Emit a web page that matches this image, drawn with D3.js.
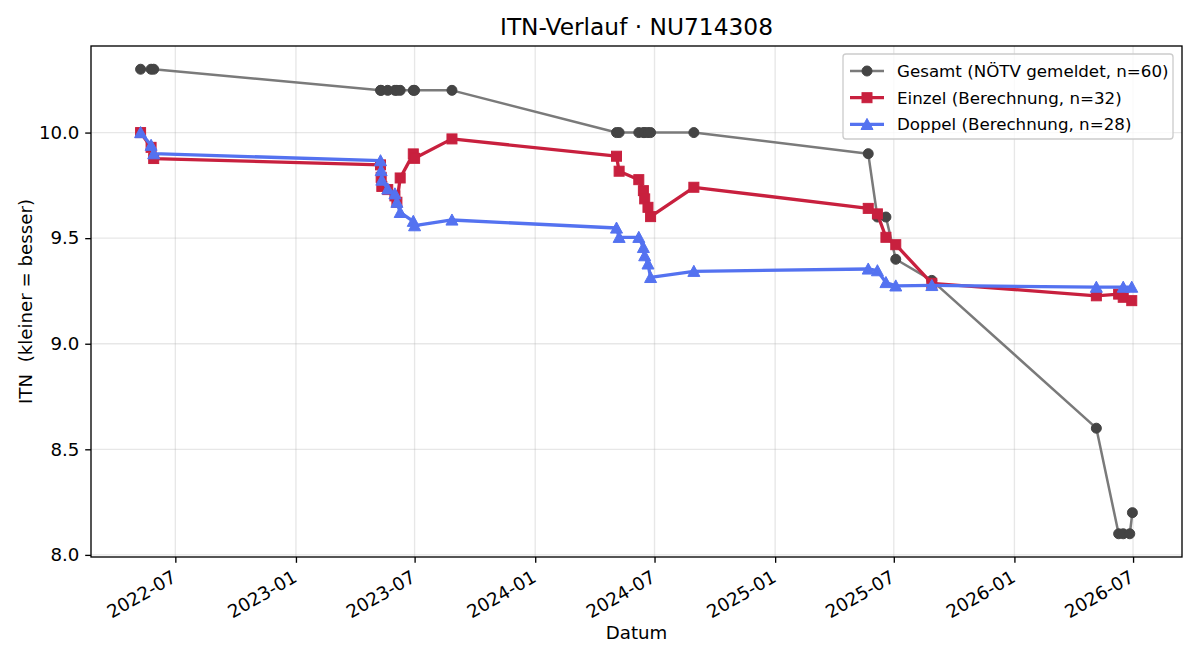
<!DOCTYPE html>
<html><head><meta charset="utf-8">
<script src="https://cdn.jsdelivr.net/npm/d3@7"></script>
<style>
html,body{margin:0;padding:0;background:#fff;}
svg{display:block;font-family:"DejaVu Sans",sans-serif;}
</style></head>
<body>
<svg id="chart" width="1200" height="660"></svg>
<script>
// ---- data ----
const gesamtDates = ["2022-05-09","2022-05-25","2022-05-29",
  "2023-05-10","2023-05-11","2023-05-21","2023-06-01","2023-06-04","2023-06-09","2023-06-29","2023-07-01","2023-08-27",
  "2024-05-04","2024-05-08","2024-06-07","2024-06-14","2024-06-16","2024-06-21","2024-06-25","2024-08-30",
  "2025-05-23","2025-06-06","2025-06-19","2025-07-04","2025-08-28",
  "2026-05-06","2026-06-09","2026-06-16","2026-06-26","2026-06-30"];
const gesamtValues = [10.3,10.3,10.3,
  10.2,10.2,10.2,10.2,10.2,10.2,10.2,10.2,10.2,
  10.0,10.0,10.0,10.0,10.0,10.0,10.0,10.0,
  9.9,9.6,9.6,9.4,9.3,
  8.6,8.1,8.1,8.1,8.2];

const einzelDates = ["2022-05-09","2022-05-25","2022-05-29",
  "2023-05-10","2023-05-11","2023-05-12","2023-05-21","2023-06-01","2023-06-04","2023-06-09","2023-06-29","2023-07-01","2023-08-27",
  "2024-05-04","2024-05-08","2024-06-07","2024-06-14","2024-06-16","2024-06-21","2024-06-25","2024-08-30",
  "2025-05-23","2025-06-06","2025-06-19","2025-07-04","2025-08-28",
  "2026-05-06","2026-06-09","2026-06-16","2026-06-29"];
const einzelValues = [10.0,9.93,9.877,
  9.847,9.788,9.745,9.73,9.70,9.67,9.785,9.899,9.878,9.970,
  9.888,9.817,9.777,9.725,9.686,9.646,9.602,9.741,
  9.641,9.615,9.504,9.469,9.286,
  9.227,9.235,9.22,9.204];

const doppelDates = ["2022-05-09","2022-05-25","2022-05-29",
  "2023-05-10","2023-05-11","2023-05-12","2023-05-21","2023-06-01","2023-06-04","2023-06-09","2023-06-29","2023-07-01","2023-08-27",
  "2024-05-04","2024-05-08","2024-06-07","2024-06-14","2024-06-16","2024-06-21","2024-06-25","2024-08-30",
  "2025-05-23","2025-06-06","2025-06-19","2025-07-04","2025-08-28",
  "2026-05-06","2026-06-16","2026-06-29"];
const doppelValues = [10.0,9.94,9.90,
  9.867,9.82,9.775,9.733,9.71,9.67,9.622,9.58,9.559,9.586,
  9.548,9.504,9.504,9.456,9.417,9.378,9.314,9.343,
  9.354,9.346,9.29,9.274,9.276,
  9.268,9.268,9.268];

const yTicks = [8.0,8.5,9.0,9.5,10.0];
const xTickDates = ["2022-07-01","2023-01-01","2023-07-01","2024-01-01","2024-07-01","2025-01-01","2025-07-01","2026-01-01","2026-07-01"];
const seriesNames = ["Gesamt (NÖTV gemeldet, n=60)","Einzel (Berechnung, n=32)","Doppel (Berechnung, n=28)"];

// ---- layout ----
const parse = d3.utcParse("%Y-%m-%d");
const L = 91, R = 1182, T = 46, B = 557;
const FS = 18.2, LFS = 16.7;
const svg = d3.select("#chart");

const mk = (ds, vs) => ds.map((d,i)=>({date:parse(d), v:vs[i]}));
const gesamt = mk(gesamtDates, gesamtValues);
const einzel = mk(einzelDates, einzelValues);
const doppel = mk(doppelDates, doppelValues);
const all = gesamt.concat(einzel, doppel);

const xExt = d3.extent(all, d=>d.date);
const xPad = (xExt[1]-xExt[0])*0.05;
const x = d3.scaleUtc().domain([new Date(+xExt[0]-xPad), new Date(+xExt[1]+xPad)]).range([L,R]);
const yExt = d3.extent(all, d=>d.v);
const yPad = (yExt[1]-yExt[0])*0.05;
const y = d3.scaleLinear().domain([yExt[0]-yPad, yExt[1]+yPad]).range([B,T]);

const xTicks = xTickDates.map(parse);

// grid
const grid = svg.append("g");
grid.selectAll("line.vx").data(xTicks).join("line")
  .attr("x1",d=>x(d)).attr("x2",d=>x(d)).attr("y1",T).attr("y2",B)
  .attr("stroke","#b0b0b0").attr("stroke-opacity",0.3).attr("stroke-width",1.33);
grid.selectAll("line.hy").data(yTicks).join("line")
  .attr("x1",L).attr("x2",R).attr("y1",d=>y(d)).attr("y2",d=>y(d))
  .attr("stroke","#b0b0b0").attr("stroke-opacity",0.3).attr("stroke-width",1.33);

// series
const line = d3.line().x(d=>x(d.date)).y(d=>y(d.v));
const styles = [
  {data:gesamt, stroke:"#7a7a7a", width:2.5, marker:"circle", fill:"#444444", size:10},
  {data:einzel, stroke:"#c8203e", width:3.3, marker:"square", fill:"#c8203e", size:10},
  {data:doppel, stroke:"#5472f0", width:3.3, marker:"triangle", fill:"#5472f0", size:10}
];
function drawMarker(g, type, cx, cy, s, fill){
  if(type==="circle"){
    g.append("circle").attr("cx",cx).attr("cy",cy).attr("r",s/2).attr("fill",fill).attr("stroke",fill);
  } else if(type==="square"){
    g.append("rect").attr("x",cx-s/2).attr("y",cy-s/2).attr("width",s).attr("height",s)
      .attr("fill",fill).attr("stroke",fill).attr("stroke-width",1);
  } else {
    const h = s*0.6;
    g.append("path").attr("d",`M${cx},${cy-h}L${cx+h},${cy+h*0.85}L${cx-h},${cy+h*0.85}Z`)
      .attr("fill",fill).attr("stroke",fill).attr("stroke-width",1);
  }
}
const plot = svg.append("g");
styles.forEach(s=>{
  const g = plot.append("g");
  g.append("path").datum(s.data).attr("d",line).attr("fill","none")
    .attr("stroke",s.stroke).attr("stroke-width",s.width).attr("stroke-linejoin","round");
  s.data.forEach(d=>drawMarker(g, s.marker, x(d.date), y(d.v), s.size, s.fill));
});

// axes
const fmt = d3.utcFormat("%Y-%m");
const xAxis = svg.append("g").attr("transform",`translate(0,${B})`)
  .call(d3.axisBottom(x).tickValues(xTicks).tickFormat(fmt).tickSize(5.8).tickPadding(6));
xAxis.select(".domain").remove();
xAxis.selectAll(".tick line").attr("stroke","#000").attr("stroke-width",1.33);
xAxis.selectAll(".tick text")
  .attr("font-family","DejaVu Sans").attr("font-size",FS).attr("fill","#000")
  .attr("text-anchor","end").attr("dy",null).attr("y",0)
  .attr("transform","translate(-5,12) rotate(-30)")
  .attr("dominant-baseline","hanging");

const yAxis = svg.append("g").attr("transform",`translate(${L},0)`)
  .call(d3.axisLeft(y).tickValues(yTicks).tickFormat(d3.format(".1f")).tickSize(5.8).tickPadding(5.8));
yAxis.select(".domain").remove();
yAxis.selectAll(".tick line").attr("stroke","#000").attr("stroke-width",1.33);
yAxis.selectAll(".tick text").attr("font-family","DejaVu Sans").attr("font-size",FS).attr("fill","#000");

// frame
svg.append("rect").attr("x",L).attr("y",T).attr("width",R-L).attr("height",B-T)
  .attr("fill","none").attr("stroke","#000").attr("stroke-width",1.33);

// labels
svg.append("text").attr("x",(L+R)/2).attr("y",35).attr("text-anchor","middle")
  .attr("font-size",23.3).attr("fill","#000").text("ITN-Verlauf · NU714308");
svg.append("text").attr("x",(L+R)/2).attr("y",639).attr("text-anchor","middle")
  .attr("font-size",FS).attr("fill","#000").text("Datum");
svg.append("text").attr("transform",`translate(32,${(T+B)/2}) rotate(-90)`).attr("text-anchor","middle")
  .attr("font-size",FS).attr("fill","#000").style("white-space","pre").text("ITN  (kleiner = besser)");

// legend
const lg = svg.append("g");
lg.append("rect").attr("x",843).attr("y",54).attr("width",330).attr("height",85).attr("rx",3)
  .attr("fill","#fff").attr("fill-opacity",0.8).attr("stroke","#cccccc").attr("stroke-width",1.33);
styles.forEach((s,i)=>{
  const cy = 71 + i*26.7;
  lg.append("line").attr("x1",850).attr("x2",884).attr("y1",cy).attr("y2",cy)
    .attr("stroke",s.stroke).attr("stroke-width",s.width);
  drawMarker(lg, s.marker, 867, cy, s.size, s.fill);
  lg.append("text").attr("x",897).attr("y",cy).attr("dy","0.35em")
    .attr("font-size",LFS).attr("fill","#000").text(seriesNames[i]);
});
</script>
</body></html>
